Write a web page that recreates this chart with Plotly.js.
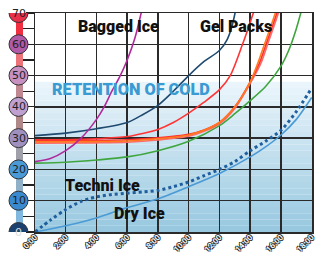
<!DOCTYPE html>
<html>
<head>
<meta charset="utf-8">
<script src="https://cdn.plot.ly/plotly-3.0.1.min.js"></script>
<style>html,body{margin:0;padding:0;background:#fff;}#chart{width:316px;height:254px;}</style>
</head>
<body>
<div id="chart"></div>
<script>
// ---- data (hours, temperature) ----
const tickHours = [0,2,4,6,8,10,12,14,16,18];
const tickLabels = ["0:00","2:00","4:00","6:00","8:00","10:00","12:00","14:00","16:00","18:00"];
const yLabels = [0,10,20,30,40,50,60,70];

const purpleT = [0,1,2,3,4,4.5,5,5.5,6,6.5,7];
const purpleV = [22.5,23.5,26,30,36,40,45,49.5,55,62,72];

const navyT = [0,2,4,6,7,8,9,10,11,12,12.5,12.8,13.1];
const navyV = [30.8,31.6,33,35,37.5,40.5,45,50,54.5,58,61.5,65.5,72];

const red1T = [0,2,4,6,7,8,9,10,11,12,12.7,13.5,14,14.4];
const red1V = [29.5,29.5,29.8,30.5,31.5,32.8,35,38,41.5,45.5,50,60,67,73];

const orangeT = [0,4,6,8,10,11,12,13,14,14.5,15,15.5,15.9];
const orangeV = [28.8,28.9,29.1,29.8,31,32.5,35,40,48,54,61,68,74];

const red2T = [0,4,6,8,10,11,12,13,14,14.6,15.1,15.6,16.0];
const red2V = [29.2,29.3,29.5,30.1,31.2,32.6,35,40,48,54,61,68,74];

const pinkT = [0,4,6,8,10,11,12,13,14,14.7,15.2,15.7,16.1];
const pinkV = [28.4,28.5,28.7,29.4,30.6,32.2,34.6,39.5,47.5,54,61,68,74];

const greenT = [0,2,4,6,8,10,12,13,14,15,16,16.5,17,17.4];
const greenV = [22,22.3,23,24,26,29,34,37.8,42,46.5,53,58,65,72];

const techniT = [0,1,2,3,3.5,4,5,6,7,8,9,10,11,12,13,14,15,16,17,18];
const techniV = [0,3.8,7.2,9.8,10.6,11.2,12,12.4,12.8,13.3,14.5,16,18,20,22.5,26,29,32.5,38.5,46];

const dryT = [0,2,4,6,8,10,12,14,15,16,17,18];
const dryV = [0,2,4.5,7.8,10.6,14.5,18.7,24,27.2,31,36,43];

// ---- styling ----
function line(t, v, color, width, dash) {
  return {x: t, y: v, type: 'scatter', mode: 'lines', hoverinfo: 'skip',
          line: {color: color, width: width, shape: 'spline', smoothing: 0.8, dash: dash || 'solid'}};
}
const traces = [
  line(greenT, greenV, '#3fa63f', 1.6),
  line(pinkT, pinkV, '#ff6b6b', 1.6),
  line(red2T, red2V, '#ff3030', 1.6),
  line(orangeT, orangeV, '#ff7a1e', 1.6),
  line(red1T, red1V, '#ff3535', 1.6),
  line(navyT, navyV, '#1f4a70', 1.6),
  line(purpleT, purpleV, '#b02a9c', 1.6),
  line(dryT, dryV, '#4a9ad6', 1.6),
  line(techniT, techniV, '#1f5f9e', 3, 'dot')
];

const plotW = 316 - 35 - 4;
const shapes = [];
// background gradient (light blue, deeper toward bottom)
const gradTop = [234,245,251], gradBot = [152,200,224];
const nB = 24, bandTop = 48;
for (let i = 0; i < nB; i++) {
  const f = i / (nB - 1);
  const c = gradTop.map((a, k) => Math.round(a + (gradBot[k] - a) * f));
  shapes.push({type: 'rect', xref: 'paper', yref: 'y', x0: 0, x1: 1,
    y0: bandTop - (i + 1) * bandTop / nB, y1: bandTop - i * bandTop / nB,
    fillcolor: 'rgb(' + c.join(',') + ')', line: {width: 0}, layer: 'below'});
}
// left scale bar
const barCols = ['#80b8e0','#90b0c8','#a0a0aa','#b08888','#c08890','#ec7478','#f03040'];
const barX = (19.5 - 35) / plotW;
for (let i = 0; i < 7; i++) {
  shapes.push({type: 'rect', xref: 'paper', yref: 'y', xsizemode: 'pixel', xanchor: barX,
    x0: -3.5, x1: 3.5, y0: i * 10, y1: (i + 1) * 10, fillcolor: barCols[i], line: {width: 0}});
}
// circles
const circCols = ['#1a4070','#3a8ad0','#4a9ad8','#a090c0','#c0a0d0','#c890c0','#b05aa8','#e8304a'];
const circX = (18.5 - 35) / plotW;
const annotations = [];
yLabels.forEach((v, i) => {
  shapes.push({type: 'circle', xref: 'paper', yref: 'y', xsizemode: 'pixel', ysizemode: 'pixel',
    xanchor: circX, yanchor: v, x0: -9.5, x1: 9.5, y0: -9.5, y1: 9.5,
    fillcolor: circCols[i], line: {color: '#333', width: 1}});
  annotations.push({xref: 'paper', yref: 'y', x: circX, y: v, text: String(v), showarrow: false,
    xanchor: 'center', yanchor: 'middle',
    font: {family: 'DejaVu Sans', size: 11, color: i === 0 ? '#ddd' : '#222'}});
});

const lab = {family: 'Roboto, Liberation Sans, sans-serif', size: 16, color: '#111', weight: 900};
annotations.push(
  {x: 5.4, y: 65.6, text: 'Bagged Ice', showarrow: false, font: lab},
  {x: 13.1, y: 65.6, text: 'Gel Packs', showarrow: false, font: lab},
  {x: 6.25, y: 45.6, text: 'RETENTION OF COLD', showarrow: false,
   font: {family: 'Roboto, Liberation Sans, sans-serif', size: 16.3, color: '#3a9ad2', weight: 900}},
  {x: 4.4, y: 15.0, text: 'Techni Ice', showarrow: false, font: lab},
  {x: 6.8, y: 5.9, text: 'Dry Ice', showarrow: false, font: lab}
);

const layout = {
  width: 316, height: 254,
  margin: {l: 35, r: 4, t: 13, b: 22},
  paper_bgcolor: '#fff', plot_bgcolor: '#fff',
  showlegend: false,
  xaxis: {range: [0, 18.02], tickvals: tickHours, ticktext: tickLabels, tickangle: -45,
    showgrid: true, gridcolor: '#2a2a2a', gridwidth: 1.5, zeroline: false,
    showline: true, linecolor: '#2a2a2a', linewidth: 1.5, mirror: true, ticks: '',
    ticklabelstandoff: -4, ticklabeloverflow: 'allow',
    tickfont: {family: 'Roboto, DejaVu Sans, sans-serif', size: 8, color: '#f4f4f4', weight: 'bold',
      shadow: '-1px 0 #222, 1px 0 #222, 0 -1px #222, 0 1px #222'}, fixedrange: true},
  yaxis: {range: [0, 70], dtick: 10, tick0: 0, showticklabels: false,
    showgrid: true, gridcolor: '#2a2a2a', gridwidth: 1.5, zeroline: false,
    showline: true, linecolor: '#2a2a2a', linewidth: 1.5, mirror: true,
    ticks: 'outside', ticklen: 8, tickcolor: '#222', tickwidth: 1.2,
    minor: {dtick: 5, ticks: 'outside', ticklen: 15, tickcolor: '#222', tickwidth: 1.2, showgrid: false},
    fixedrange: true},
  shapes: shapes,
  annotations: annotations
};
Plotly.newPlot('chart', traces, layout, {staticPlot: true, displayModeBar: false});
</script>
</body>
</html>
